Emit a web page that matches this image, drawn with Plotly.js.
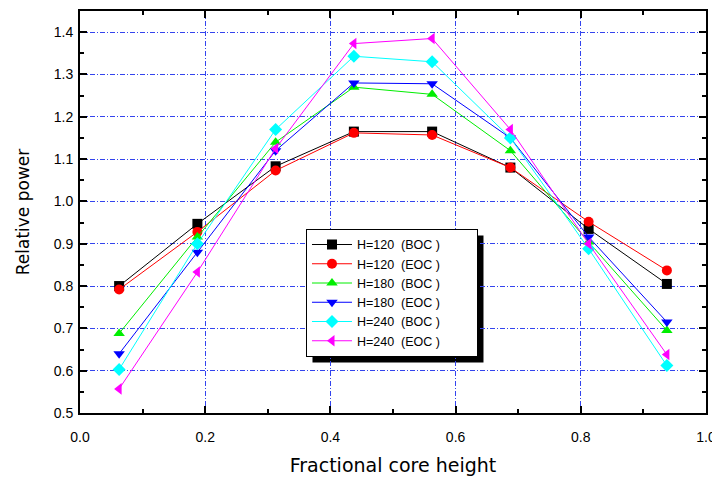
<!DOCTYPE html>
<html>
<head>
<meta charset="utf-8">
<script src="https://cdn.plot.ly/plotly-3.0.1.min.js"></script>
<style>html,body{margin:0;padding:0;background:#fff;}#chart{width:712px;height:482px;}</style>
</head>
<body>
<div id="chart"></div>
<script>
const xPos = [0.0625, 0.1875, 0.3125, 0.4375, 0.5625, 0.6875, 0.8125, 0.9375];
const h120boc = [0.800, 0.947, 1.083, 1.165, 1.165, 1.080, 0.935, 0.805];
const h120eoc = [0.792, 0.928, 1.073, 1.162, 1.157, 1.080, 0.952, 0.837];
const h180boc = [0.688, 0.916, 1.140, 1.270, 1.253, 1.120, 0.904, 0.695];
const h180eoc = [0.640, 0.880, 1.120, 1.280, 1.278, 1.150, 0.916, 0.715];
const h240boc = [0.603, 0.900, 1.170, 1.343, 1.330, 1.150, 0.888, 0.612];
const h240eoc = [0.557, 0.833, 1.125, 1.373, 1.385, 1.170, 0.900, 0.638];
const names = ["H=120  (BOC )", "H=120  (EOC )", "H=180  (BOC )", "H=180  (EOC )", "H=240  (BOC )", "H=240  (EOC )"];
const series = [h120boc, h120eoc, h180boc, h180eoc, h240boc, h240eoc];
const colors = ["#000000", "#ff0000", "#00ee00", "#0000ff", "#00ffff", "#ff00ff"];
const symbols = ["square", "circle", "triangle-up", "triangle-down", "diamond", "triangle-left"];
const legendPad = "\u2003\u2003\u00a0\u00a0";

const traces = series.map((ys, i) => ({
  x: xPos, y: ys, name: names[i] + legendPad, type: "scatter", mode: "lines+markers",
  line: {color: colors[i], width: 1},
  marker: {symbol: symbols[i], color: colors[i], size: 10, line: {width: 0}}
}));

const axisCommon = {
  showline: true, linecolor: "#000", linewidth: 2, mirror: "allticks",
  ticks: "inside", ticklen: 7, tickwidth: 2, tickcolor: "#000",
  showgrid: true, gridcolor: "#3344ee", gridwidth: 1, griddash: "5px,2px,1px,2px",
  zeroline: false, ticklabeloverflow: "allow",
  tickfont: {family: "Liberation Sans, Arial, sans-serif", size: 14, color: "#000"}
};

const layout = {
  width: 712, height: 482,
  margin: {l: 80, r: 6, t: 11, b: 69},
  paper_bgcolor: "#fff", plot_bgcolor: "#fff",
  showlegend: true,
  xaxis: Object.assign({}, axisCommon, {
    range: [0, 1.0], dtick: 0.2, tickformat: ".1f", ticklabelstandoff: 10,
    minor: {dtick: 0.1, ticks: "inside", ticklen: 4, tickwidth: 2, tickcolor: "#000", showgrid: false},
    title: {text: "Fractional core height", font: {family: "DejaVu Sans, sans-serif", size: 19, color: "#000"}, standoff: 15}
  }),
  yaxis: Object.assign({}, axisCommon, {
    range: [0.5, 1.45], dtick: 0.1, tick0: 0.5, tickformat: ".1f", ticklabelstandoff: 2,
    minor: {dtick: 0.05, ticks: "inside", ticklen: 4, tickwidth: 2, tickcolor: "#000", showgrid: false},
    title: {text: "Relative power", font: {family: "DejaVu Sans, sans-serif", size: 17, color: "#000"}, standoff: 20}
  }),
  legend: {
    x: 0.361, y: 0.458, xanchor: "left", yanchor: "top",
    bgcolor: "#fff", bordercolor: "#000", borderwidth: 1,
    font: {family: "Liberation Sans, Arial, sans-serif", size: 12.5, color: "#000"},
    tracegroupgap: 0, itemwidth: 40
  },
  shapes: [{
    type: "rect", xref: "paper", yref: "paper", layer: "below",
    x0: 0.371, x1: 0.639, y0: 0.179, y1: 0.445,
    fillcolor: "#000", line: {width: 0}
  }]
};

Plotly.newPlot("chart", traces, layout, {displayModeBar: false, staticPlot: true}).then(gd => {
  const bg = gd.querySelector(".legend .bg");
  const root = gd.getBoundingClientRect();
  if (!bg) return;
  const r = bg.getBoundingClientRect();
  const sz = gd._fullLayout._size;
  const off = 6;
  const px = v => (v - root.left - sz.l) / sz.w;
  const py = v => 1 - (v - root.top - sz.t) / sz.h;
  Plotly.relayout(gd, {
    "shapes[0].x0": px(r.left + off), "shapes[0].x1": px(r.right + off),
    "shapes[0].y0": py(r.bottom + off), "shapes[0].y1": py(r.top + off)
  });
});
</script>
</body>
</html>
